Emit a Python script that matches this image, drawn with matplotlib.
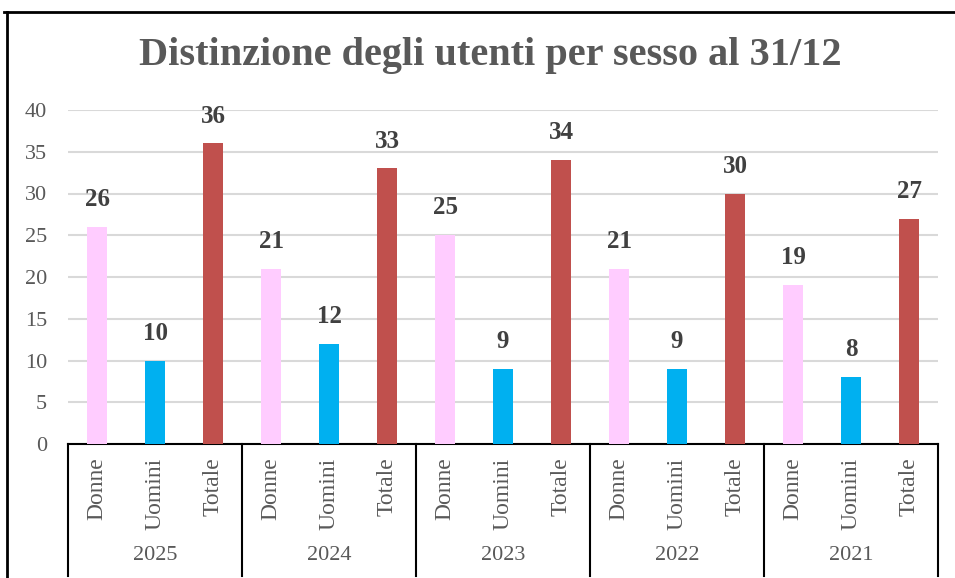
import numpy as np
import matplotlib.pyplot as plt
from matplotlib.lines import Line2D

# data
years = ['2025', '2024', '2023', '2022', '2021']
categories = ['Donne', 'Uomini', 'Totale']
donne = [26, 21, 25, 21, 19]
uomini = [10, 12, 9, 9, 8]
totale = [36, 33, 34, 30, 27]

colors = ['#FFCCFF', '#00B0F0', '#C0504D']
serif = ['Liberation Serif', 'DejaVu Serif']

fig = plt.figure(figsize=(9.55, 5.78), dpi=100)
ax = fig.add_axes([68/955, 1-444/578, 870/955, 334/578])

series = [donne, uomini, totale]
n = len(categories)
for j, vals in enumerate(series):
    xs = np.arange(len(years)) * n + j
    ax.bar(xs, vals, width=0.33, color=colors[j], zorder=3)
    for x, v in zip(xs, vals):
        ax.text(x, v + 1.9, str(v), ha='center', va='bottom', fontsize=18,
                fontweight='bold', color='#404040', family=serif)

ax.set_xlim(-0.5, len(years) * n - 0.5)
ax.set_ylim(0, 40)
ax.set_yticks(range(0, 41, 5))
ax.yaxis.grid(True, color='#D9D9D9', linewidth=1.5, zorder=0)
ax.tick_params(axis='y', length=0, pad=15, labelsize=16, labelcolor='#595959')
for lbl in ax.get_yticklabels():
    lbl.set_family(serif)
ax.set_xticks([])
for s in ['left', 'right', 'top']:
    ax.spines[s].set_visible(False)
ax.spines['bottom'].set_color('black')
ax.spines['bottom'].set_linewidth(1.5)

# two-level category axis
tr = ax.get_xaxis_transform()
for i, yr in enumerate(years):
    for j, c in enumerate(categories):
        ax.text(i * n + j, -0.04, c, rotation=90, ha='center', va='top',
                fontsize=17, color='#595959', family=serif, transform=tr)
    ax.text(i * n + 1, -0.335, yr, ha='center', va='center', fontsize=16,
            color='#595959', family=serif, transform=tr)
for k in range(len(years) + 1):
    ax.plot([k * n - 0.5] * 2, [0, -0.395], color='black', lw=1.5,
            transform=tr, clip_on=False)

fig.text(0.513, 1-55/578, 'Distinzione degli utenti per sesso al 31/12',
         ha='center', va='center', fontsize=29, fontweight='bold',
         color='#595959', family=serif)

# chart frame edges
fig.add_artist(Line2D([4/955, 1], [1-12/578, 1-12/578], color='black', lw=2))
fig.add_artist(Line2D([7/955, 7/955], [0, 1-12/578], color='black', lw=2))

fig.savefig('out.png', dpi=100)
